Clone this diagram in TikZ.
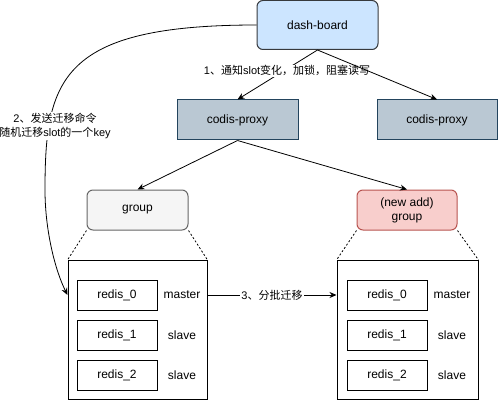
\documentclass[tikz,border=0pt]{standalone}
\usepackage{fontspec}
\setmainfont{Liberation Sans}
\newfontfamily\cjk{Noto Sans CJK SC}
\usetikzlibrary{arrows.meta}

\definecolor{dashfill}{HTML}{CCE5FF}
\definecolor{dashline}{HTML}{36393D}
\definecolor{proxyfill}{HTML}{BAC8D3}
\definecolor{proxyline}{HTML}{23445D}
\definecolor{groupfill}{HTML}{F5F5F5}
\definecolor{groupline}{HTML}{666666}
\definecolor{newfill}{HTML}{F8CECC}
\definecolor{newline}{HTML}{B85450}

\begin{document}
\begin{tikzpicture}[x=1pt, y=-1pt, >={Stealth[length=7pt,width=6pt]}]
    \tikzstyle{box}=[draw, line width=1pt, inner sep=0pt, font=\fontsize{12}{14}\selectfont]
    \tikzstyle{redis}=[box, minimum width=80pt, minimum height=30pt]
    \tikzstyle{role}=[font=\fontsize{12}{14}\selectfont]
    \tikzstyle{lbl}=[fill=white, inner sep=1pt, font=\fontsize{11}{14}\selectfont]
    \tikzstyle{link}=[line width=0.8pt]

    \useasboundingbox (0,0) rectangle (498,401);

    % \foreach \i/\r in {0/master,1/slave,2/slave}
    %     \node (l\i) at (117, 295+40*\i) [redis] {redis\_\i};

    \node (dash) at (317.5, 25) [box, draw=dashline, fill=dashfill, rounded corners=6pt,
        minimum width=121pt, minimum height=49pt] {dash-board};

    \node (proxyL) at (237.5, 120) [box, draw=proxyline, fill=proxyfill,
        minimum width=121pt, minimum height=40pt] {codis-proxy};
    \node (proxyR) at (437, 120) [box, draw=proxyline, fill=proxyfill,
        minimum width=120pt, minimum height=40pt] {codis-proxy};

    \node (groupL) at (137.5, 210) [box, draw=groupline, fill=groupfill, rounded corners=6pt,
        minimum width=101pt, minimum height=40pt] {group};
    \node (groupR) at (407, 210) [box, draw=newline, fill=newfill, rounded corners=6pt,
        minimum width=100pt, minimum height=40pt, align=center] {(new add)\\group};

    \node (boxL) at (137.5, 330) [box, minimum width=139pt, minimum height=139pt] {};
    \node (boxR) at (407.5, 330) [box, minimum width=141pt, minimum height=139pt] {};

    \node (l0) at (117, 295) [redis] {redis\_0};
    \node (l1) at (117, 335) [redis] {redis\_1};
    \node (l2) at (117, 375) [redis] {redis\_2};
    \node (lr0) at (182, 295) [role] {master};
    \node (lr1) at (182, 335) [role] {slave};
    \node (lr2) at (182, 375) [role] {slave};

    \node (r0) at (387, 295) [redis] {redis\_0};
    \node (r1) at (387, 335) [redis] {redis\_1};
    \node (r2) at (387, 375) [redis] {redis\_2};
    \node (rr0) at (452, 295) [role] {master};
    \node (rr1) at (452, 335) [role] {slave};
    \node (rr2) at (452, 375) [role] {slave};

    \draw [link, ->] (dash.south) to node [lbl, pos=0.38, yshift=-2pt]
        {1{\cjk 、通知}slot{\cjk 变化，加锁，阻塞读写}} (proxyL.north);
    \draw [link, ->] (dash.south) to (proxyR.north);

    \draw [link, ->] (proxyL.south) to (groupL.north);
    \draw [link, ->] (proxyL.south) to (groupR.north);

    \draw [link, dash pattern=on 2pt off 2pt] (groupL.south west) to (boxL.north west);
    \draw [link, dash pattern=on 2pt off 2pt] (groupL.south east) to (boxL.north east);
    \draw [link, dash pattern=on 2pt off 2pt] (groupR.south west) to (boxR.north west);
    \draw [link, dash pattern=on 2pt off 2pt] (groupR.south east) to (boxR.north east);

    \draw [link, ->] (boxL.east |- lr0) to node [lbl] {3{\cjk 、分批迁移}} (boxR.west |- rr0);

    \draw [link, ->] (dash.west) .. controls (60, 25) and (45, 80) .. (45, 190)
        .. controls (45, 230) and (55, 270) .. (boxL.west |- l0);
    \node (step2) at (55, 126) [lbl, align=center]
        {2{\cjk 、发送迁移命令}\\{\cjk 随机迁移}slot{\cjk 的一个}key};

\end{tikzpicture}
\end{document}
